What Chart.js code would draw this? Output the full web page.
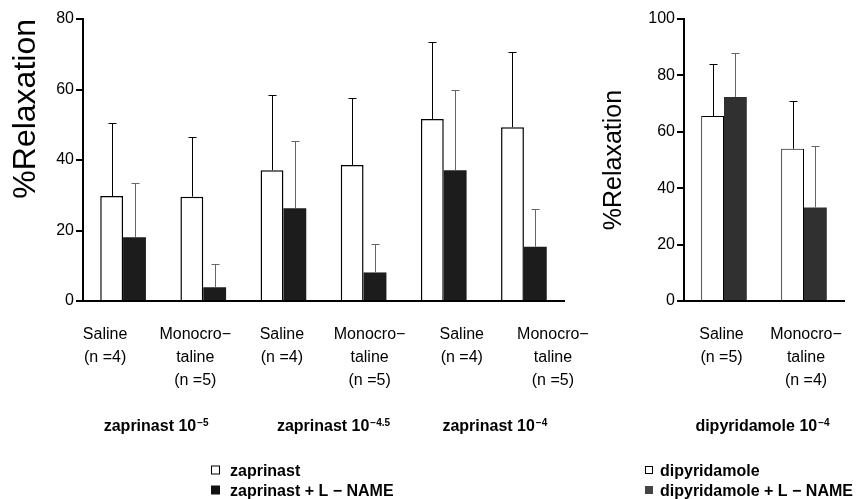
<!DOCTYPE html>
<html>
<head>
<meta charset="utf-8">
<script src="https://cdn.jsdelivr.net/npm/chart.js@4"></script>
<style>
  html, body { margin: 0; padding: 0; background: #fff; }
  #wrap { position: relative; width: 868px; height: 499px; }
  #c1 { position: absolute; left: 0; top: 0; }
  #c2 { position: absolute; left: 590px; top: 0; }
</style>
</head>
<body>
<div id="wrap">
  <canvas id="c1" width="600" height="499"></canvas>
  <canvas id="c2" width="278" height="499"></canvas>
</div>
<script>
// zaprinast panel
const zapCategories = [
  ['Saline', '(n =4)'], ['Monocro−', 'taline', '(n =5)'],
  ['Saline', '(n =4)'], ['Monocro−', 'taline', '(n =5)'],
  ['Saline', '(n =4)'], ['Monocro−', 'taline', '(n =5)']
];
const zapGroups = [['zaprinast 10', '−5'], ['zaprinast 10', '−4.5'], ['zaprinast 10', '−4']];
const zapMean = [29.8, 29.6, 37.1, 38.6, 51.6, 49.3];
const zapSD = [20.8, 17.0, 21.3, 19.0, 21.8, 21.3];
const zapLnameMean = [18.1, 3.9, 26.3, 8.1, 37.1, 15.4];
const zapLnameSD = [15.3, 6.6, 19.2, 8.2, 22.8, 10.6];
const zapTicks = [0, 20, 40, 60, 80];

// dipyridamole panel
const dipCategories = [['Saline', '(n =5)'], ['Monocro−', 'taline', '(n =4)']];
const dipGroups = [['dipyridamole 10', '−4']];
const dipMean = [65.6, 54.0];
const dipSD = [18.3, 16.8];
const dipLnameMean = [72.3, 33.2];
const dipLnameSD = [15.7, 21.6];
const dipTicks = [0, 20, 40, 60, 80, 100];

const FONT = '"Liberation Sans", Arial, sans-serif';
Chart.defaults.font.family = FONT;
Chart.defaults.color = '#000';

// error bars, category labels, group captions and legend
const annotate = {
  id: 'annotate',
  afterDatasetsDraw(chart) {
    const ctx = chart.ctx, y = chart.scales.y;
    chart.data.datasets.forEach((ds, i) => {
      const meta = chart.getDatasetMeta(i);
      ctx.save();
      ctx.strokeStyle = ds.errColor;
      ctx.lineWidth = 1;
      meta.data.forEach((bar, j) => {
        const top = Math.round(y.getPixelForValue(ds.data[j] + ds.sd[j])) + 0.5;
        const x = Math.round(bar.x) + 0.5;
        ctx.beginPath();
        ctx.moveTo(x, bar.y);
        ctx.lineTo(x, top);
        ctx.moveTo(x - 4, top);
        ctx.lineTo(x + 4, top);
        ctx.stroke();
      });
      ctx.restore();
    });
  },
  afterDraw(chart, args, opts) {
    const ctx = chart.ctx, x = chart.scales.x, base = chart.chartArea.bottom;
    ctx.save();
    ctx.fillStyle = '#000';

    // category labels
    ctx.textAlign = 'center';
    ctx.textBaseline = 'middle';
    ctx.font = '16px ' + FONT;
    chart.data.labels.forEach((lines, i) => {
      const cx = x.getPixelForTick(i) + opts.tickShift[i];
      lines.forEach((t, k) => ctx.fillText(t, cx, base + 34 + k * 23));
    });

    // group captions with superscript
    ctx.textAlign = 'left';
    ctx.textBaseline = 'alphabetic';
    opts.groups.forEach((g, k) => {
      const cx = (x.getPixelForTick(2 * k) + x.getPixelForTick(2 * k + 1)) / 2 + opts.groupShift[k];
      ctx.font = 'bold 16px ' + FONT;
      const w1 = ctx.measureText(g[0]).width;
      ctx.font = 'bold 10px ' + FONT;
      const w2 = ctx.measureText(g[1]).width;
      const left = cx - (w1 + 1 + w2) / 2;
      ctx.font = 'bold 16px ' + FONT;
      ctx.fillText(g[0], left, 431);
      ctx.font = 'bold 10px ' + FONT;
      ctx.fillText(g[1], left + w1 + 1, 426);
    });

    // legend
    ctx.font = 'bold 16px ' + FONT;
    chart.data.datasets.forEach((ds, i) => {
      const cy = 470 + i * 20;
      const s = opts.boxSize;
      if (ds.backgroundColor === '#ffffff') {
        ctx.strokeStyle = '#000';
        ctx.lineWidth = 1;
        ctx.strokeRect(opts.legendX + 0.5, cy - s / 2 + 0.5, s - 1, s - 1);
      } else {
        ctx.fillStyle = opts.legendDark;
        ctx.fillRect(opts.legendX, cy - s / 2, s, s);
        ctx.fillStyle = '#000';
      }
      ctx.fillText(ds.label, opts.legendX + opts.textGap, cy + 6);
    });
    ctx.restore();
  }
};

function makePanel(canvasId, cfg) {
  return new Chart(document.getElementById(canvasId), {
    type: 'bar',
    data: {
      labels: cfg.categories,
      datasets: [
        {
          label: cfg.names[0], data: cfg.mean, sd: cfg.sd,
          backgroundColor: '#ffffff', borderColor: '#000', borderWidth: cfg.border,
          errColor: '#000', categoryPercentage: 0.57, barPercentage: 1
        },
        {
          label: cfg.names[1], data: cfg.lnameMean, sd: cfg.lnameSD,
          backgroundColor: cfg.dark, borderColor: cfg.dark, borderWidth: 0,
          errColor: '#666', categoryPercentage: 0.57, barPercentage: 1
        }
      ]
    },
    options: {
      responsive: false,
      animation: false,
      layout: { padding: { top: cfg.top, right: cfg.right, left: 0, bottom: 0 } },
      plugins: {
        legend: { display: false },
        tooltip: { enabled: false },
        annotate: {
          tickShift: cfg.tickShift, groups: cfg.groups, groupShift: cfg.groupShift,
          legendX: cfg.legendX, boxSize: cfg.boxSize, textGap: cfg.textGap, legendDark: cfg.legendDark
        }
      },
      scales: {
        x: {
          grid: { display: false },
          ticks: { display: false },
          border: { display: true, color: '#000', width: 2 },
          afterFit: (s) => { s.height = 198; }
        },
        y: {
          min: cfg.ticks[0],
          max: cfg.ticks[cfg.ticks.length - 1],
          afterBuildTicks: (s) => { s.ticks = cfg.ticks.map(v => ({ value: v })); },
          afterFit: (s) => { s.width = cfg.yWidth; },
          grid: { drawOnChartArea: false, drawTicks: true, tickLength: 7, color: '#000', lineWidth: 2 },
          border: { display: true, color: '#000', width: 2 },
          ticks: { font: { size: 16 }, color: '#000', padding: 2 },
          title: {
            display: true, text: '%Relaxation', color: '#000',
            font: { size: cfg.titleSize }, align: cfg.titleAlign,
            padding: { top: cfg.titlePad, bottom: 0 }
          }
        }
      }
    },
    plugins: [annotate]
  });
}

makePanel('c1', {
  categories: zapCategories, groups: zapGroups,
  names: ['zaprinast', 'zaprinast + L − NAME'],
  mean: zapMean, sd: zapSD, lnameMean: zapLnameMean, lnameSD: zapLnameSD,
  ticks: zapTicks, dark: '#1c1c1c', legendDark: '#111', border: 1.5,
  top: 19, right: 36, yWidth: 83,
  titleSize: 32, titleAlign: 'end', titlePad: 7,
  tickShift: [-18, -8, -1.5, 6, 18, 29], groupShift: [-7, 10, 11],
  legendX: 211, boxSize: 9, textGap: 19
});

makePanel('c2', {
  categories: dipCategories, groups: dipGroups,
  names: ['dipyridamole', 'dipyridamole + L − NAME'],
  mean: dipMean, sd: dipSD, lnameMean: dipLnameMean, lnameSD: dipLnameSD,
  ticks: dipTicks, dark: '#303030', legendDark: '#444', border: 1,
  top: 19, right: 24, yWidth: 94,
  titleSize: 25, titleAlign: 'center', titlePad: 9,
  tickShift: [-2.5, 2], groupShift: [-1.5],
  legendX: 55, boxSize: 8, textGap: 15
});
</script>
</body>
</html>
